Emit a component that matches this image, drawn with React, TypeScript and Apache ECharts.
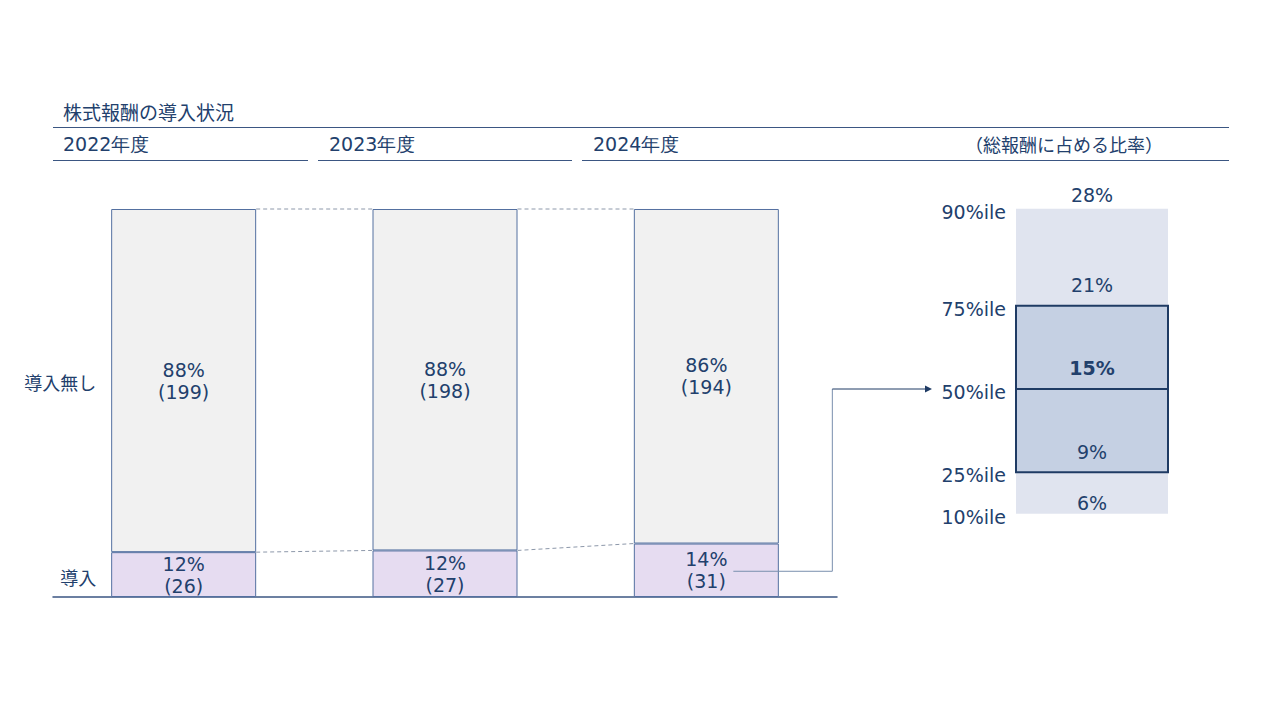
import React, { useEffect, useRef } from "react";
import * as echarts from "echarts";

// 株式報酬の導入状況（社数）
const years = ["2022年度", "2023年度", "2024年度"];
const adopted = [26, 27, 31];
const notAdopted = [199, 198, 194];
const rowLabels = ["導入", "導入無し"];

// 総報酬に占める比率（2024年度 導入企業）
const pctNames = ["10%ile", "25%ile", "50%ile", "75%ile", "90%ile"];
const pctValues = [6, 9, 15, 21, 28];

const TEXT = "#22406c";
const DARK = "#1f3b64";
const LINE = "#3b5682";
const BORDER = "#5470a0";
const DASH = "#8d98aa";
const JP = "Noto Sans CJK JP";
const NUM = "DejaVu Sans";

const totals = adopted.map((v, i) => v + notAdopted[i]);
const BAR_W = 145;
// 値ラベルを線からどれだけ上に置くか（px）
const LABEL_GAP = [1, 11, 12, 11, 4];

const App = () => {
  const chartRef = useRef(null);

  useEffect(() => {
    const chartDom = chartRef.current;
    if (!chartDom) return;
    const myChart = echarts.init(chartDom, null, { renderer: "svg" });

    const pctLabel = (params: any) =>
      `${Math.round((params.value / totals[params.dataIndex]) * 100)}%\n(${params.value})`;

    const labelStyle = {
      show: true,
      position: "inside",
      formatter: pctLabel,
      color: TEXT,
      fontSize: 19,
      lineHeight: 22,
      fontFamily: NUM,
    };

    myChart.setOption({
      animation: false,
      backgroundColor: "#ffffff",
      grid: [
        { left: 53, top: 209, width: 784, height: 388 },
        { left: 1016, top: 181, width: 152, height: 416 },
      ],
      xAxis: [
        {
          type: "category",
          gridIndex: 0,
          data: years,
          axisLine: { show: true, lineStyle: { color: LINE, width: 1.5 } },
          axisTick: { show: false },
          axisLabel: { show: false },
        },
        { type: "category", gridIndex: 1, data: ["ratio"], show: false },
      ],
      yAxis: [
        {
          type: "value",
          gridIndex: 0,
          min: 0,
          max: Math.max(...totals),
          show: false,
          splitLine: { show: false },
        },
        { type: "value", gridIndex: 1, min: 0, max: 30, show: false, splitLine: { show: false } },
      ],
      series: [
        {
          name: rowLabels[0],
          type: "bar",
          stack: "all",
          barWidth: BAR_W,
          data: adopted,
          itemStyle: { color: "#e6dcf1", borderColor: BORDER, borderWidth: 1 },
          label: labelStyle,
        },
        {
          name: rowLabels[1],
          type: "bar",
          stack: "all",
          barWidth: BAR_W,
          data: notAdopted,
          itemStyle: { color: "#f1f1f1", borderColor: BORDER, borderWidth: 1 },
          label: labelStyle,
        },
        {
          // 年度間の破線
          type: "custom",
          xAxisIndex: 0,
          yAxisIndex: 0,
          clip: false,
          data: [[0], [1]],
          renderItem: (params: any, api: any) => {
            const i = api.value(0);
            const x1 = api.coord([i, 0])[0] + BAR_W / 2;
            const x2 = api.coord([i + 1, 0])[0] - BAR_W / 2;
            const style = { stroke: DASH, lineWidth: 1, lineDash: [4, 3] };
            return {
              type: "group",
              children: [
                {
                  type: "line",
                  shape: { x1, y1: api.coord([i, totals[i]])[1], x2, y2: api.coord([i + 1, totals[i + 1]])[1] },
                  style,
                },
                {
                  type: "line",
                  shape: { x1, y1: api.coord([i, adopted[i]])[1], x2, y2: api.coord([i + 1, adopted[i + 1]])[1] },
                  style,
                },
              ],
            };
          },
        },
        {
          // パーセンタイル
          type: "custom",
          xAxisIndex: 1,
          yAxisIndex: 1,
          clip: false,
          data: [[0, pctValues[2]]],
          renderItem: (params: any, api: any) => {
            const cx = api.coord([0, 0])[0];
            const w = api.size([1, 0])[0];
            const left = cx - w / 2;
            const y = pctValues.map((v) => api.coord([0, v])[1]);
            const children: any[] = [
              { type: "rect", shape: { x: left, y: y[4], width: w, height: y[0] - y[4] }, style: { fill: "#e0e4ef" } },
              {
                type: "rect",
                shape: { x: left, y: y[3], width: w, height: y[1] - y[3] },
                style: { fill: "#c5d0e3", stroke: DARK, lineWidth: 2 },
              },
              { type: "line", shape: { x1: left, y1: y[2], x2: left + w, y2: y[2] }, style: { stroke: DARK, lineWidth: 2 } },
            ];
            pctNames.forEach((name, k) => {
              children.push({
                type: "text",
                style: {
                  text: name,
                  x: left - 10,
                  y: y[k] + 3,
                  align: "right",
                  verticalAlign: "middle",
                  fill: TEXT,
                  fontSize: 19,
                  fontFamily: NUM,
                },
              });
              children.push({
                type: "text",
                style: {
                  text: `${pctValues[k]}%`,
                  x: cx,
                  y: y[k] - LABEL_GAP[k],
                  align: "center",
                  verticalAlign: "bottom",
                  fill: TEXT,
                  fontSize: 19,
                  fontWeight: k === 2 ? "bold" : "normal",
                  fontFamily: NUM,
                },
              });
            });
            return { type: "group", children };
          },
        },
      ],
    });

    // ラベル・矢印の位置はスケールから求める
    const c0 = myChart.convertToPixel({ gridIndex: 0 }, [0, 0]) as number[];
    const yAdopt0 = (myChart.convertToPixel({ gridIndex: 0 }, [0, adopted[0] / 2]) as number[])[1];
    const yNot0 = (myChart.convertToPixel({ gridIndex: 0 }, [0, adopted[0] + notAdopted[0] / 2]) as number[])[1];
    const p2 = myChart.convertToPixel({ gridIndex: 0 }, [2, adopted[2] / 2]) as number[];
    const med = myChart.convertToPixel({ gridIndex: 1 }, [0, pctValues[2]]) as number[];
    const rowX = c0[0] - BAR_W / 2 - 15;
    const elbowX = p2[0] + 126;
    const arrowEnd = med[0] - 160;

    const headerText = (text: string, x: number, align = "left", family = NUM, size = 19) => ({
      type: "text",
      style: { text, x, y: 144, align, verticalAlign: "middle", fill: TEXT, fontSize: size, fontFamily: family },
    });
    const hLine = (x1: number, x2: number, y: number) => ({
      type: "line",
      shape: { x1, y1: y, x2, y2: y },
      style: { stroke: LINE, lineWidth: 1 },
    });

    myChart.setOption({
      graphic: [
        {
          type: "text",
          style: { text: "株式報酬の導入状況", x: 63, y: 111, verticalAlign: "middle", fill: TEXT, fontSize: 19, fontFamily: JP },
        },
        hLine(53, 1229, 127.5),
        headerText(years[0], 63),
        headerText(years[1], 329),
        headerText(years[2], 593),
        headerText("（総報酬に占める比率）", 1064, "center", JP, 18),
        hLine(53, 308, 160.5),
        hLine(318, 572, 160.5),
        hLine(582, 1229, 160.5),
        {
          type: "text",
          style: { text: rowLabels[1], x: rowX, y: yNot0 + 1, align: "right", verticalAlign: "middle", fill: TEXT, fontSize: 18, fontFamily: JP },
        },
        {
          type: "text",
          style: { text: rowLabels[0], x: rowX, y: yAdopt0 + 2, align: "right", verticalAlign: "middle", fill: TEXT, fontSize: 18, fontFamily: JP },
        },
        {
          type: "polyline",
          z: 10,
          shape: { points: [[p2[0] + 27, p2[1] + 1], [elbowX, p2[1] + 1], [elbowX, med[1]]] },
          style: { stroke: "#7a8fae", lineWidth: 1, fill: null },
        },
        {
          type: "line",
          z: 10,
          shape: { x1: elbowX, y1: med[1], x2: arrowEnd - 6, y2: med[1] },
          style: { stroke: DARK, lineWidth: 1 },
        },
        {
          type: "polygon",
          z: 10,
          shape: { points: [[arrowEnd - 7, med[1] - 3.5], [arrowEnd, med[1]], [arrowEnd - 7, med[1] + 3.5]] },
          style: { fill: DARK },
        },
      ],
    });

    return () => {
      myChart.dispose();
    };
  }, []);

  return (
    <div ref={chartRef} style={{ position: "fixed", left: 0, top: 0, width: 1280, height: 720 }}></div>
  );
};

export default App;
